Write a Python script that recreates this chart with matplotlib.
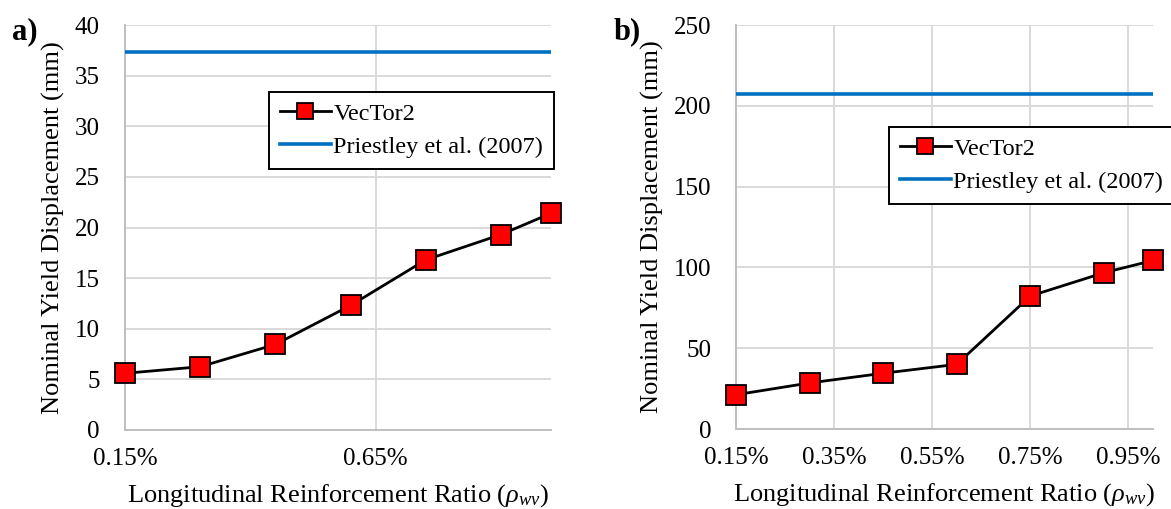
import matplotlib
matplotlib.use("Agg")
import matplotlib.pyplot as plt
from matplotlib.ticker import FuncFormatter, MultipleLocator

plt.rcParams['font.family'] = ['Liberation Serif', 'DejaVu Serif']
plt.rcParams['mathtext.fontset'] = 'custom'
plt.rcParams['mathtext.rm'] = 'Liberation Serif'
plt.rcParams['mathtext.it'] = 'Liberation Serif:italic'

# reinforcement ratio (%)
ratio = [0.15, 0.30, 0.45, 0.60, 0.75, 0.90, 1.00]

# panel a
vector2_a = [5.6, 6.25, 8.45, 12.3, 16.8, 19.3, 21.4]
priestley_a = 37.3
xticks_a = [0.15, 0.65]

# panel b
vector2_b = [21.2, 28.5, 34.5, 40.0, 82.3, 96.7, 104.3]
priestley_b = 207.2
xticks_b = [0.15, 0.35, 0.55, 0.75, 0.95]

grid_c = '#d9d9d9'
axis_c = '#bfbfbf'

fig = plt.figure(figsize=(11.71, 5.09), dpi=100)
ax1 = fig.add_axes([125/1171, 79/509, 426/1171, 405/509])
ax2 = fig.add_axes([736/1171, 80/509, 417/1171, 404/509])

panels = [
    (ax1, vector2_a, priestley_a, xticks_a, (0, 40), 5, 'a)', (269/1171, 1 - 92/509), 12),
    (ax2, vector2_b, priestley_b, xticks_b, (0, 250), 50, 'b)', (889/1171, 1 - 127/509), 614),
]

for ax, vals, pr, xt, ylim, ystep, tag, leg_pos, tag_x in panels:
    ax.plot(ratio, vals, color='black', lw=2, marker='s', ms=14,
            mfc='#ff0000', mec='black', mew=1.3, clip_on=False, zorder=4,
            label='VecTor2')
    ax.axhline(pr, color='#0070c0', lw=2.6, zorder=3,
               label='Priestley et al. (2007)')
    ax.set_xlim(0.15, 1.0)
    ax.set_ylim(*ylim)
    ax.set_xticks(xt)
    ax.yaxis.set_major_locator(MultipleLocator(ystep))
    ax.xaxis.set_major_formatter(FuncFormatter(lambda v, p: '%.2f%%' % v))
    ax.grid(True, color=grid_c, lw=1.4, zorder=0)
    ax.set_axisbelow(True)
    for s in ['top', 'right']:
        ax.spines[s].set_visible(False)
    for s in ['left', 'bottom']:
        ax.spines[s].set_color(axis_c)
        ax.spines[s].set_linewidth(1.4)
    ax.tick_params(length=0, labelsize=18)
    ax.tick_params(axis='y', pad=18)
    ax.tick_params(axis='x', pad=13)
    ax.set_xlabel(r'Longitudinal Reinforcement Ratio ($\rho_{wv}$)', fontsize=19, labelpad=9)
    ax.set_ylabel('Nominal Yield Displacement (mm)', fontsize=19, labelpad=7)
    leg = ax.legend(loc='upper left', bbox_to_anchor=leg_pos,
                    bbox_transform=fig.transFigure, fontsize=17.5, frameon=True,
                    fancybox=False, edgecolor='black', framealpha=1,
                    handlelength=2.1, borderpad=0.45, labelspacing=0.45,
                    handletextpad=0.1, borderaxespad=0)
    leg.get_frame().set_linewidth(1.4)
    leg.legend_handles[0].set_markersize(11)
    fig.text(tag_x / 1171, 1 - 32/509, tag, fontsize=22, fontweight='bold',
             va='center', ha='left')

fig.savefig('out.png', dpi=100)
